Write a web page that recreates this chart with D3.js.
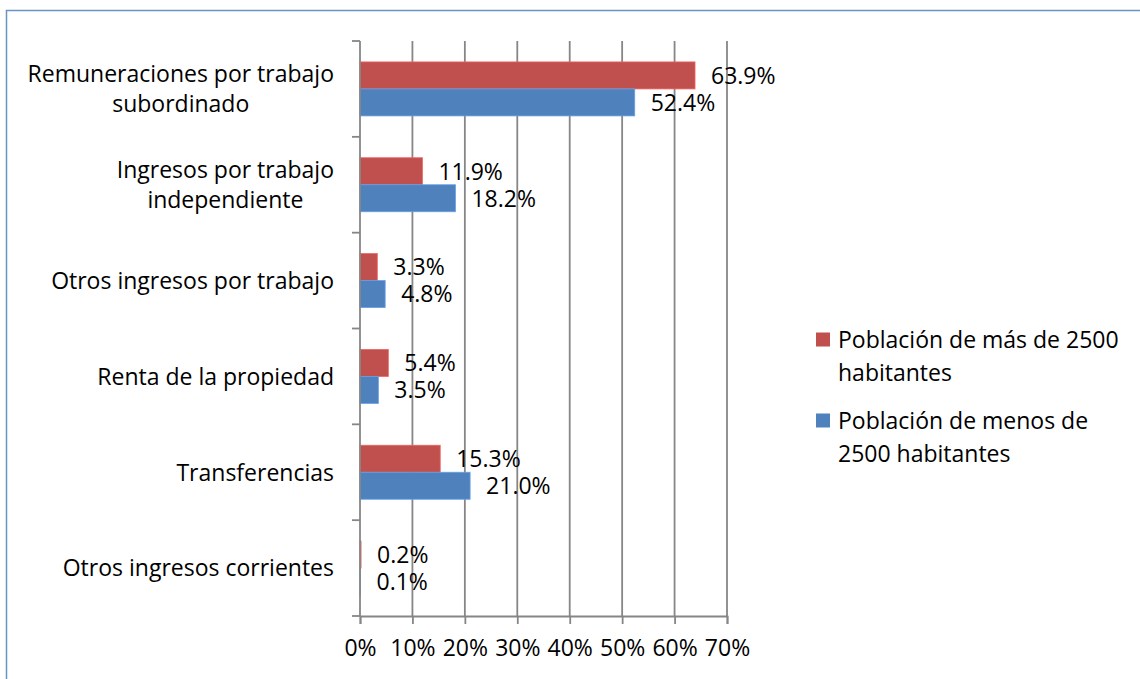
<!DOCTYPE html>
<html>
<head>
<meta charset="utf-8">
<script src="https://cdn.jsdelivr.net/npm/d3@7"></script>
<style>
  html, body { margin: 0; padding: 0; background: #fff; }
  svg { display: block; font-family: "Open Sans", "Noto Sans", sans-serif; }
</style>
</head>
<body>
<div id="chart"></div>
<script>
// categories, top to bottom (each label may wrap to two lines)
var categories = [
  ["Remuneraciones por trabajo", "subordinado"],
  ["Ingresos por trabajo", "independiente"],
  ["Otros ingresos por trabajo"],
  ["Renta de la propiedad"],
  ["Transferencias"],
  ["Otros ingresos corrientes"]
];
var masDe2500 = [63.9, 11.9, 3.3, 5.4, 15.3, 0.2];
var menosDe2500 = [52.4, 18.2, 4.8, 3.5, 21.0, 0.1];
var seriesNames = [
  ["Población de más de 2500", "habitantes"],
  ["Población de menos de", "2500 habitantes"]
];
var seriesColors = ["#C0504D", "#4F81BD"];
var xTicks = [0, 10, 20, 30, 40, 50, 60, 70];

(function() {
  "use strict";
  var W = 1140, H = 679;
  var left = 360, right = 727, top = 41, bottom = 616;
  var fontSize = 23;

  var svg = d3.select("#chart").append("svg")
    .attr("width", W).attr("height", H);

  // outer frame (only top and left edges are visible in the window)
  svg.append("path")
    .attr("d", "M6.5," + (H + 5) + "V10.5H" + (W + 5))
    .attr("fill", "none")
    .attr("stroke", "#4F81BD")
    .attr("stroke-width", 1.5)
    .attr("stroke-opacity", 0.85);

  var x = d3.scaleLinear().domain([0, 70]).range([left, right]);
  var keys = categories.map(function(d, i) { return i; });
  var y = d3.scaleBand().domain(keys).range([top, bottom]);
  var barH = 27;
  var sub = d3.scaleBand().domain([0, 1])
    .range([y.bandwidth() / 2 - barH, y.bandwidth() / 2 + barH]);

  // vertical grid lines
  svg.append("g").selectAll("line")
    .data(xTicks.slice(1))
    .enter().append("line")
    .attr("x1", function(d) { return x(d); })
    .attr("x2", function(d) { return x(d); })
    .attr("y1", top).attr("y2", bottom)
    .attr("stroke", "#868686")
    .attr("stroke-width", 1.8);

  // bars
  var series = [masDe2500, menosDe2500];
  series.forEach(function(vals, s) {
    svg.append("g").selectAll("rect")
      .data(vals)
      .enter().append("rect")
      .attr("x", x(0))
      .attr("y", function(d, i) { return y(i) + sub(s); })
      .attr("width", function(d) { return x(d) - x(0); })
      .attr("height", sub.bandwidth())
      .attr("fill", seriesColors[s])
      .attr("stroke", d3.color(seriesColors[s]).brighter(0.6))
      .attr("stroke-width", 0.8);

    svg.append("g").selectAll("text")
      .data(vals)
      .enter().append("text")
      .attr("x", function(d) { return x(d) + 16; })
      .attr("y", function(d, i) { return y(i) + sub(s) + sub.bandwidth() / 2; })
      .attr("dy", "0.36em")
      .attr("font-size", fontSize)
      .attr("fill", "#000")
      .text(function(d) { return d.toFixed(1) + "%"; });
  });

  // y axis (left) with ticks at band boundaries
  var yAxis = svg.append("g").attr("stroke", "#868686").attr("stroke-width", 1.8);
  yAxis.append("line")
    .attr("x1", left).attr("x2", left).attr("y1", top).attr("y2", bottom);
  yAxis.selectAll("line.tick")
    .data(keys.concat([keys.length]))
    .enter().append("line")
    .attr("class", "tick")
    .attr("x1", left - 8).attr("x2", left)
    .attr("y1", function(d) { return top + d * y.step(); })
    .attr("y2", function(d) { return top + d * y.step(); });

  // x axis (bottom)
  var xAxis = svg.append("g")
    .attr("transform", "translate(0," + bottom + ")")
    .call(d3.axisBottom(x).tickValues(xTicks).tickSize(8).tickPadding(16)
      .tickFormat(function(d) { return d + "%"; }));
  xAxis.select(".domain").attr("stroke", "#868686").attr("stroke-width", 1.8);
  xAxis.selectAll(".tick line").attr("stroke", "#868686").attr("stroke-width", 1.8);
  xAxis.selectAll(".tick text")
    .attr("font-size", fontSize)
    .attr("font-family", "\"Open Sans\", \"Noto Sans\", sans-serif")
    .attr("fill", "#000");

  // category labels: centred lines, block right-aligned to the axis
  var lineH = 30;
  categories.forEach(function(lines, i) {
    var g = svg.append("g");
    var cy = y(i) + y.bandwidth() / 2;
    var texts = lines.map(function(t, j) {
      return g.append("text")
        .attr("font-size", fontSize)
        .attr("fill", "#000")
        .attr("text-anchor", "middle")
        .attr("y", cy + (j - (lines.length - 1) / 2) * lineH)
        .attr("dy", "0.36em")
        .text(t);
    });
    var maxW = d3.max(texts, function(t) { return t.node().getComputedTextLength(); });
    texts.forEach(function(t) { t.attr("x", 334 - maxW / 2); });
  });

  // legend
  var legendTop = [339.5, 420.5];
  seriesNames.forEach(function(lines, s) {
    var g = svg.append("g");
    g.append("rect")
      .attr("x", 816).attr("y", legendTop[s] - 7)
      .attr("width", 14).attr("height", 14)
      .attr("fill", seriesColors[s]);
    lines.forEach(function(t, j) {
      g.append("text")
        .attr("x", 838)
        .attr("y", legendTop[s] + j * 33)
        .attr("dy", "0.36em")
        .attr("font-size", fontSize)
        .attr("fill", "#000")
        .text(t);
    });
  });
})();
</script>
</body>
</html>
